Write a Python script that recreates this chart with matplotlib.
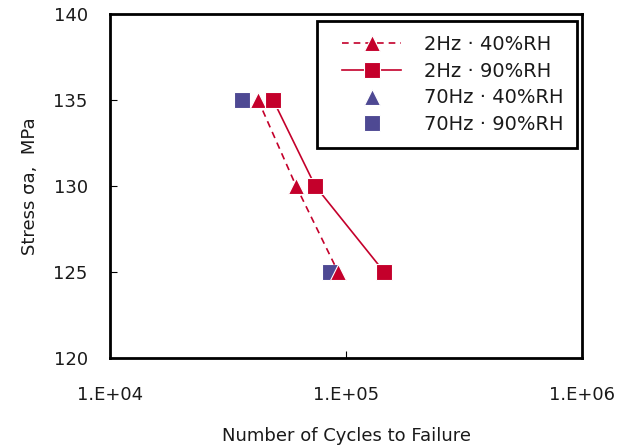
import numpy as np
import matplotlib
matplotlib.use("Agg")
import matplotlib.pyplot as plt
from matplotlib.lines import Line2D
from matplotlib.legend_handler import HandlerLine2D
from matplotlib.ticker import FixedLocator, FixedFormatter, NullLocator

plt.rcParams['font.family'] = ['DejaVu Sans']

# cycles to failure / stress amplitude (MPa)
n_2hz_40 = [42400, 61400, 92500]
s_2hz_40 = [135, 130, 125]
n_2hz_90 = [49100, 74000, 145000]
s_2hz_90 = [135, 130, 125]
n_70hz_40 = [36300, 85500]
s_70hz_40 = [135, 125]
n_70hz_90 = [36300, 85500]
s_70hz_90 = [135, 125]

xticks = [1e4, 1e5, 1e6]
xlabels = ['1.E+04', '1.E+05', '1.E+06']
yticks = [120, 125, 130, 135, 140]

red = '#C4002B'
blue = '#4E4993'
txt = '#1a1a1a'

fig = plt.figure(figsize=(6.35, 4.48), dpi=100)
ax = fig.add_axes([0.173, 0.201, 0.744, 0.768])

ms = 11
ax.plot(n_70hz_40, s_70hz_40, ls='none', marker='^', ms=ms, color=blue,
        mec='white', mew=0.8, label='70Hz · 40%RH', zorder=2)
ax.plot(n_70hz_90, s_70hz_90, ls='none', marker='s', ms=ms, color=blue,
        mec='white', mew=0.8, label='70Hz · 90%RH', zorder=3)
ax.plot(n_2hz_40, s_2hz_40, ls=(0, (4, 3)), lw=1.2, marker='^', ms=ms, color=red,
        mec='white', mew=0.8, label='2Hz · 40%RH', zorder=4)
ax.plot(n_2hz_90, s_2hz_90, ls='-', lw=1.2, marker='s', ms=ms, color=red,
        mec='white', mew=0.8, label='2Hz · 90%RH', zorder=4)

ax.set_xscale('log')
ax.set_xlim(1e4, 1e6)
ax.set_ylim(120, 140)
ax.xaxis.set_major_locator(FixedLocator(xticks))
ax.xaxis.set_major_formatter(FixedFormatter(xlabels))
ax.xaxis.set_minor_locator(NullLocator())
ax.set_yticks(yticks)

for sp in ax.spines.values():
    sp.set_linewidth(2)
ax.tick_params(axis='both', direction='in', length=5, width=0.8,
               labelsize=13, labelcolor=txt)
ax.tick_params(axis='x', pad=20)
ax.tick_params(axis='y', pad=16)

ax.set_xlabel('Number of Cycles to Failure', fontsize=13, labelpad=17, color=txt)
ax.set_ylabel('Stress σa,  MPa', fontsize=13, labelpad=10, color=txt)

h, l = ax.get_legend_handles_labels()
order = [2, 3, 0, 1]
leg = ax.legend([h[i] for i in order], [l[i] for i in order],
                loc='upper right', bbox_to_anchor=(0.989, 0.980),
                borderaxespad=0, fontsize=14, frameon=True, fancybox=False,
                handlelength=3.6, borderpad=0.72, labelspacing=0.4,
                handletextpad=1.15, framealpha=1,
                handler_map={Line2D: HandlerLine2D(xpad=0.57)})
leg.get_frame().set_edgecolor('black')
leg.get_frame().set_linewidth(2)
for t in leg.get_texts():
    t.set_color(txt)

fig.savefig('out.png', dpi=100)
